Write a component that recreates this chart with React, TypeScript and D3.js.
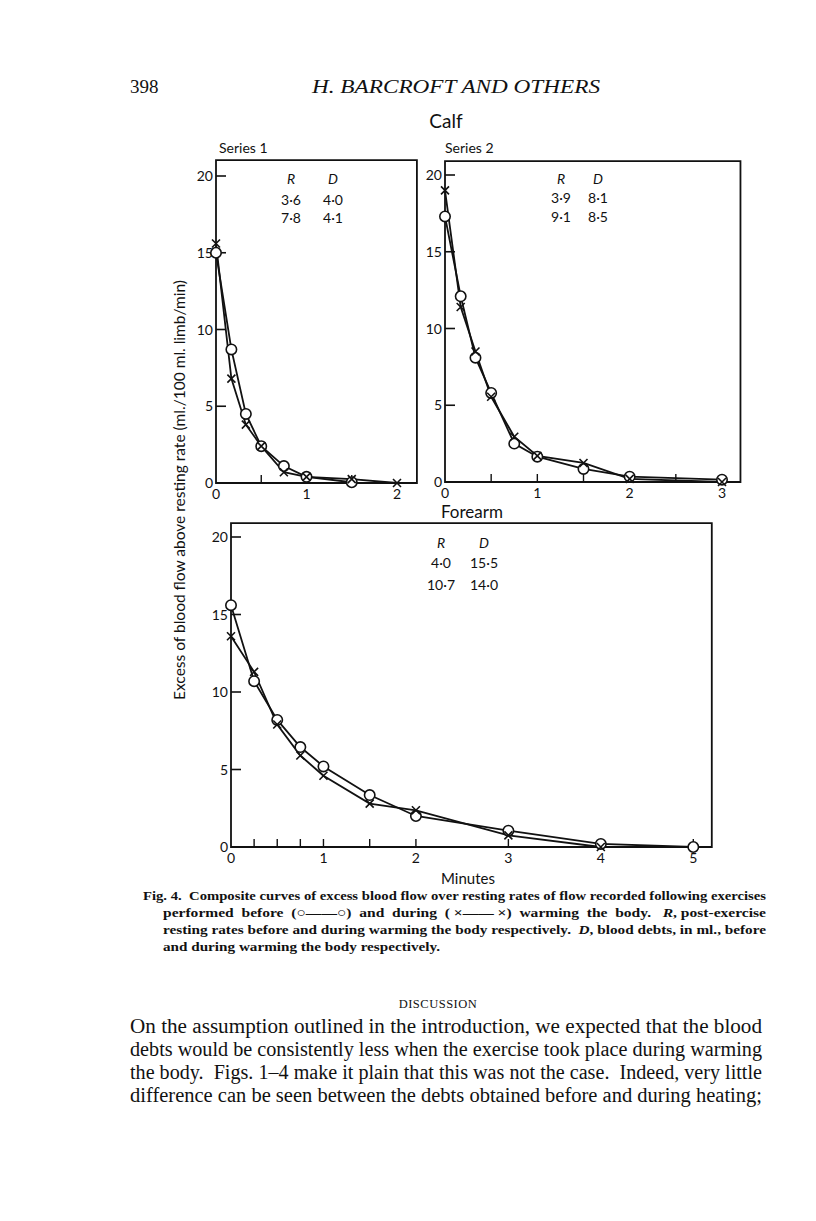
import React from 'react';
import * as d3 from 'd3';

// Calf, series 1 (minutes after exercise, ml./100 ml. limb/min)
const times1 = [0, 0.17, 0.33, 0.5, 0.75, 1, 1.5, 2];
const before1 = [15.0, 8.7, 4.5, 2.4, 1.1, 0.4, 0.05];
const during1 = [15.6, 6.8, 3.8, 2.4, 0.7, 0.4, 0.25, 0.0];

// Calf, series 2
const times2 = [0, 0.17, 0.33, 0.5, 0.75, 1, 1.5, 2, 3];
const before2 = [17.3, 12.1, 8.1, 5.8, 2.5, 1.65, 0.85, 0.35, 0.15];
const during2 = [19.0, 11.4, 8.5, 5.55, 2.95, 1.7, 1.24, 0.2, 0.0];

// Forearm
const times3 = [0, 0.25, 0.5, 0.75, 1, 1.5, 2, 3, 4, 5];
const before3 = [15.6, 10.7, 8.2, 6.45, 5.2, 3.35, 2.0, 1.05, 0.2, 0.0];
const during3 = [13.6, 11.3, 7.9, 5.9, 4.6, 2.8, 2.37, 0.75, 0.0];

const yTicks = [0, 5, 10, 15, 20];
const xTicks1 = [0, 1, 2];
const xTicks2 = [0, 1, 2, 3];
const xTicks3 = [0, 1, 2, 3, 4, 5];
const minor1 = [0.5, 1, 1.5];
const minor2 = [0.5, 1, 1.5, 2, 2.5];
const minor3 = [0.25, 0.5, 0.75, 1, 1.5, 2, 3, 4, 5];

const rd1 = [['R', 'D'], ['3·6', '4·0'], ['7·8', '4·1']];
const rd2 = [['R', 'D'], ['3·9', '8·1'], ['9·1', '8·5']];
const rd3 = [['R', 'D'], ['4·0', '15·5'], ['10·7', '14·0']];

const SANS = 'Lato, "Open Sans", sans-serif';
const SERIF = '"Liberation Serif", "DejaVu Serif", serif';
const INK = '#111';

type PanelProps = {
  x0: number; x1: number; xMaxDom: number;
  y0: number; y1: number;
  xFrame: number; yFrame: number;
  times: number[]; before: number[]; during: number[];
  xTicks: number[]; minor: number[];
  rd: string[][]; rdX: [number, number]; rdY: number[];
};

const Panel = (p: PanelProps) => {
  const x = d3.scaleLinear().domain([0, p.xMaxDom]).range([p.x0, p.x1]);
  const y = d3.scaleLinear().domain([0, 20]).range([p.y0, p.y1]);
  const ptsB = p.before.map((v, i) => [p.times[i], v] as [number, number]);
  const ptsD = p.during.map((v, i) => [p.times[i], v] as [number, number]);
  const line = d3.line<[number, number]>().x(d => x(d[0])).y(d => y(d[1]));
  const left = x(0), right = x(p.xFrame), top = y(p.yFrame), bottom = y(0);

  return (
    <g>
      <path d={`M${left},${top}H${right}V${bottom}H${left}Z`} fill="none" stroke={INK} strokeWidth={1.8} />
      {yTicks.filter(t => t > 0).map(t => (
        <line key={'yt' + t} x1={left} x2={left + 10} y1={y(t)} y2={y(t)} stroke={INK} strokeWidth={1.6} />
      ))}
      {yTicks.map(t => (
        <text key={'yl' + t} x={left - 3} y={y(t) + 5} textAnchor="end" fontFamily={SANS} fontSize={14} fill={INK}>{t}</text>
      ))}
      {p.minor.map(t => (
        <line key={'xm' + t} x1={x(t)} x2={x(t)} y1={bottom} y2={bottom - 8} stroke={INK} strokeWidth={1.4} />
      ))}
      {p.xTicks.map(t => (
        <text key={'xl' + t} x={x(t)} y={bottom + 16} textAnchor="middle" fontFamily={SANS} fontSize={14} fill={INK}>{t}</text>
      ))}
      <path d={line(ptsB) || ''} fill="none" stroke={INK} strokeWidth={1.8} />
      <path d={line(ptsD) || ''} fill="none" stroke={INK} strokeWidth={1.8} />
      {ptsB.map((d, i) => (
        <circle key={'c' + i} cx={x(d[0])} cy={y(d[1])} r={5.2} fill="#fff" stroke={INK} strokeWidth={1.6} />
      ))}
      {ptsD.map((d, i) => (
        <path key={'x' + i} transform={`translate(${x(d[0])},${y(d[1])})`} d="M-4,-4L4,4M-4,4L4,-4" stroke={INK} strokeWidth={1.6} />
      ))}
      {p.rd.map((row, r) => row.map((s, c) => (
        <text key={`rd${r}${c}`} x={p.rdX[c]} y={p.rdY[r]} textAnchor="middle" fontFamily={SANS}
          fontStyle={r === 0 ? 'italic' : 'normal'} fontSize={14} fill={INK}>{s}</text>
      )))}
    </g>
  );
};

const captionLines = [
  { x: 143, w: 623, y: 900, parts: [['Fig. 4.  Composite curves of excess blood flow over resting rates of flow recorded following exercises', false]] },
  { x: 163, w: 603, y: 917, parts: [['performed  before  (○——○)  and  during  ( ×—— ×)  warming  the  body.   ', false], ['R', true], [', post-exercise', false]] },
  { x: 163, w: 603, y: 934, parts: [['resting rates before and during warming the body respectively.  ', false], ['D', true], [', blood debts, in ml., before', false]] },
  { x: 163, w: 277, y: 951, parts: [['and during warming the body respectively.', false]] },
];

const bodyLines = [
  'On the assumption outlined in the introduction, we expected that the blood',
  'debts would be consistently less when the exercise took place during warming',
  'the body.  Figs. 1–4 make it plain that this was not the case.  Indeed, very little',
  'difference can be seen between the debts obtained before and during heating;',
];

const App = () => {
  return (
    <svg width={816} height={1221} style={{ position: 'absolute', left: 0, top: 0, background: '#fff' }}>
      <rect width={816} height={1221} fill="#fff" />
      <text x={130} y={93} fontFamily={SERIF} fontSize={19} fill={INK}>398</text>
      <text x={312} y={93} fontFamily={SERIF} fontStyle="italic" fontSize={19} textLength={288} lengthAdjust="spacingAndGlyphs" fill={INK}>H. BARCROFT AND OTHERS</text>
      <text x={446} y={128} textAnchor="middle" fontFamily={SANS} fontSize={19} fill={INK}>Calf</text>
      <text x={219} y={153} fontFamily={SANS} fontSize={14} fill={INK}>Series 1</text>
      <text x={445} y={153} fontFamily={SANS} fontSize={14} fill={INK}>Series 2</text>
      <text x={441} y={518} fontFamily={SANS} fontSize={17} fill={INK}>Forearm</text>
      <text x={468} y={884} textAnchor="middle" fontFamily={SANS} fontSize={15} fill={INK}>Minutes</text>
      <text transform="translate(185,490) rotate(-90)" textAnchor="middle" fontFamily={SANS} fontSize={15}
        textLength={420} lengthAdjust="spacingAndGlyphs" fill={INK}>
        Excess of blood flow above resting rate (ml./100 ml. limb/min)
      </text>

      <Panel x0={216} x1={397} xMaxDom={2} y0={483} y1={176} xFrame={2.22} yFrame={21.04}
        times={times1} before={before1} during={during1} xTicks={xTicks1} minor={minor1}
        rd={rd1} rdX={[291, 333]} rdY={[184, 205, 223]} />
      <Panel x0={445} x1={722} xMaxDom={3} y0={482} y1={175} xFrame={3.2} yFrame={20.9}
        times={times2} before={before2} during={during2} xTicks={xTicks2} minor={minor2}
        rd={rd2} rdX={[561, 598]} rdY={[184, 203, 222]} />
      <Panel x0={231} x1={693.3} xMaxDom={5} y0={847} y1={537} xFrame={5.2} yFrame={20.9}
        times={times3} before={before3} during={during3} xTicks={xTicks3} minor={minor3}
        rd={rd3} rdX={[441, 484]} rdY={[548, 568, 590]} />

      {captionLines.map((l, i) => (
        <text key={'cap' + i} x={l.x} y={l.y} fontFamily={SERIF} fontWeight="bold" fontSize={13.5} fill={INK}
          textLength={l.w} lengthAdjust="spacingAndGlyphs" style={{ whiteSpace: 'pre' }}>
          {l.parts.map((pt, j) => (
            <tspan key={j} fontStyle={pt[1] ? 'italic' : 'normal'}>{pt[0] as string}</tspan>
          ))}
        </text>
      ))}

      <text x={438} y={1008} textAnchor="middle" fontFamily={SERIF} fontSize={12.5} letterSpacing={0.5} fill={INK}>DISCUSSION</text>
      {bodyLines.map((s, i) => (
        <text key={'b' + i} x={130} y={1033 + i * 23} fontFamily={SERIF} fontSize={20} fill={INK}
          textLength={632} lengthAdjust="spacingAndGlyphs" style={{ whiteSpace: 'pre' }}>{s}</text>
      ))}
    </svg>
  );
};

export default App;
